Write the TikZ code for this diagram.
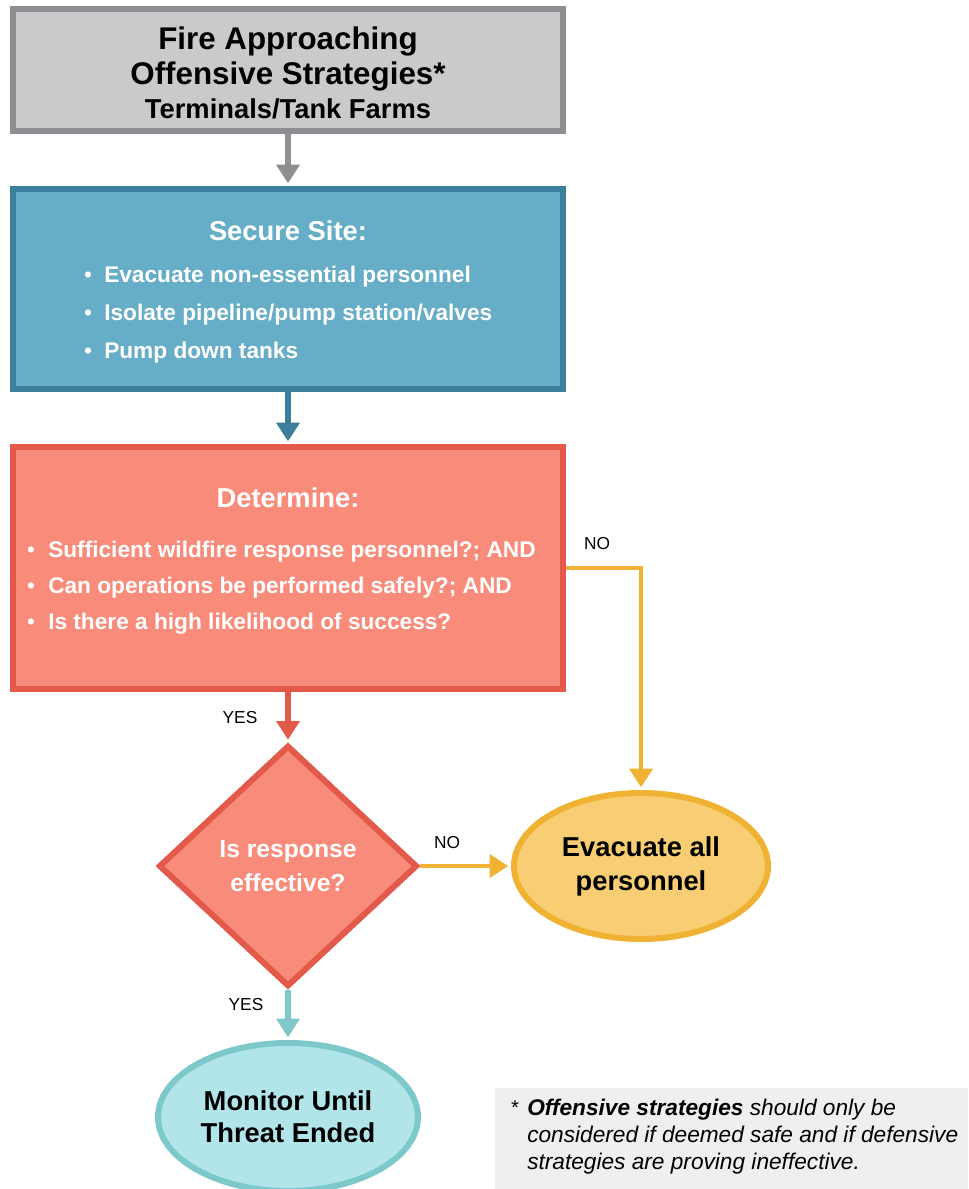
\documentclass[tikz,border=0pt]{standalone}
\usepackage{fontspec}
\setmainfont{Liberation Sans}
\usetikzlibrary{shapes.geometric,arrows.meta}

\definecolor{greyfill}{HTML}{C9CACC}
\definecolor{greyline}{HTML}{8E8F92}
\definecolor{bluefill}{HTML}{66ADC7}
\definecolor{blueline}{HTML}{3B7F9C}
\definecolor{redfill}{HTML}{F98B7B}
\definecolor{redline}{HTML}{E35A4B}
\definecolor{yelfill}{HTML}{F8CD73}
\definecolor{yelline}{HTML}{F0B232}
\definecolor{tealfill}{HTML}{B2E5E9}
\definecolor{tealline}{HTML}{7DC8CB}
\definecolor{notefill}{HTML}{EFEFEF}

\tikzset{
  boxnode/.style={rectangle, line width=4.5pt, minimum width=412.5pt, inner sep=0pt},
  txt/.style={inner sep=0pt, anchor=base},
  bul/.style={inner sep=0pt, anchor=base west, text=white, font=\fontsize{17}{20}\selectfont\bfseries},
  dot/.style={inner sep=0pt, anchor=base, text=white, font=\fontsize{17}{20}\selectfont},
  lbl/.style={inner sep=0pt, font=\fontsize{13}{15}\selectfont},
  flow/.style={line width=4pt, -{Triangle[width=17pt,length=14pt]}, shorten >=2pt},
}

\begin{document}
\begin{tikzpicture}[x=0.75pt,y=-0.75pt]
\useasboundingbox (0,0) rectangle (968,1189);

% title box
\node[boxnode, draw=greyline, fill=greyfill, minimum height=91.5pt] (title) at (288,70) {};
\node[txt, font=\fontsize{23.5}{26}\selectfont\bfseries] (t1) at (288,49) {Fire Approaching};
\node[txt, font=\fontsize{23.5}{26}\selectfont\bfseries] (t2) at (288,84) {Offensive Strategies*};
\node[txt, font=\fontsize{20.5}{24}\selectfont\bfseries] (t3) at (288,118) {Terminals/Tank Farms};

% secure site box
\node[boxnode, draw=blueline, fill=bluefill, minimum height=150pt] (secure) at (288,289) {};
\node[txt, text=white, font=\fontsize{20.5}{24}\selectfont\bfseries] (sh) at (288,240) {Secure Site:};
\node[dot] (sd1) at (88,282) {\textbullet};
\node[bul] (sb1) at (104,282) {Evacuate non-essential personnel};
\node[dot] (sd2) at (88,320) {\textbullet};
\node[bul] (sb2) at (104,320) {Isolate pipeline/pump station/valves};
\node[dot] (sd3) at (88,358) {\textbullet};
\node[bul] (sb3) at (104,358) {Pump down tanks};

% determine box
\node[boxnode, draw=redline, fill=redfill, minimum height=181.5pt] (determine) at (288,568) {};
\node[txt, text=white, font=\fontsize{20.5}{24}\selectfont\bfseries] (dh) at (288,507) {Determine:};
\node[dot] (dd1) at (31,557) {\textbullet};
\node[bul] (db1) at (48,557) {Sufficient wildfire response personnel?; AND};
\node[dot] (dd2) at (31,593) {\textbullet};
\node[bul] (db2) at (48,593) {Can operations be performed safely?; AND};
\node[dot] (dd3) at (31,629) {\textbullet};
\node[bul] (db3) at (48,629) {Is there a high likelihood of success?};

% decision
\node[diamond, draw=redline, fill=redfill, line width=4.5pt, inner sep=0pt,
      minimum width=194pt, minimum height=181pt, align=center, text=white,
      font=\fontsize{18.5}{25.5}\selectfont\bfseries] (effective) at (288,866)
      {Is response\\effective?};

% outcomes
\node[ellipse, draw=yelline, fill=yelfill, line width=4.5pt, inner sep=0pt,
      minimum width=190.5pt, minimum height=109.5pt, align=center,
      font=\fontsize{20.5}{25.5}\selectfont\bfseries] (evacuate) at (641,866)
      {Evacuate all\\personnel};
\node[ellipse, draw=tealline, fill=tealfill, line width=4.5pt, inner sep=0pt,
      minimum width=195pt, minimum height=111pt, align=center,
      font=\fontsize{20.5}{24}\selectfont\bfseries] (monitor) at (288,1117)
      {Monitor Until\\Threat Ended};

% connectors
\draw[flow, greyline] (title) -- (secure);
\draw[flow, blueline] (secure) -- (determine);
\draw[flow, redline] (determine) -- (effective);
\draw[flow, yelline, line width=3.5pt] (determine.east) -| (evacuate.north);
\draw[flow, yelline, line width=3.5pt] (effective.east) -- (evacuate.west);
\draw[flow, tealline] (effective.south) -- (monitor.north);

\node[lbl] (yes1) at (240,718) {YES};
\node[lbl] (no1) at (597,544) {NO};
\node[lbl] (no2) at (447,843) {NO};
\node[lbl] (yes2) at (246,1005) {YES};

% footnote
\fill[notefill] (495,1088) rectangle (968,1189);
\node[inner sep=0pt, anchor=base west, font=\fontsize{15}{15}\selectfont\itshape] (ast) at (510,1114) {*};
\node[inner sep=0pt, anchor=north west, align=left,
      font=\fontsize{17}{20.25}\selectfont\itshape] (note) at (527,1099)
      {\textbf{Offensive strategies} should only be\\
       considered if deemed safe and if defensive\\
       strategies are proving ineffective.};
\end{tikzpicture}
\end{document}
